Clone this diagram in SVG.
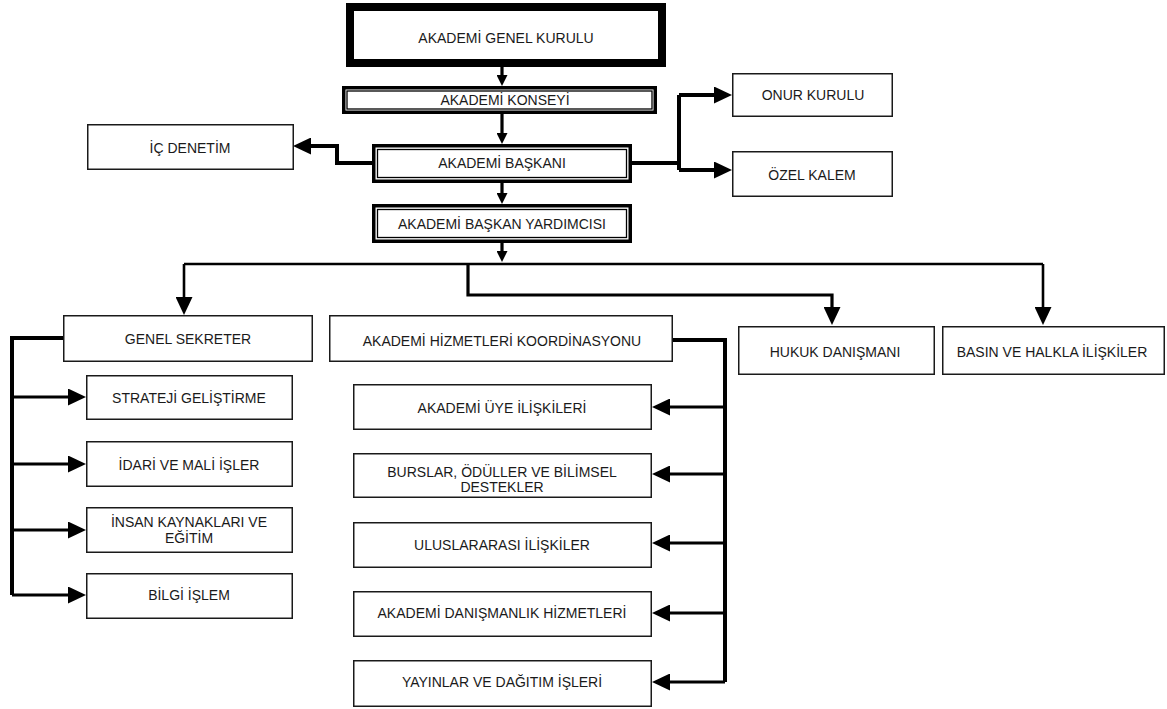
<svg xmlns="http://www.w3.org/2000/svg" width="1167" height="709" viewBox="0 0 1167 709">
<style>
.bx{fill:#fff;stroke:#1a1a1a;stroke-width:1.5}
.dbo{fill:#fff;stroke:#000;stroke-width:3.5}
.dbi{fill:none;stroke:#000;stroke-width:1.3}
.gk{fill:#fff;stroke:#000;stroke-width:8}
.t{font-family:"Liberation Sans",Arial,sans-serif;font-size:14px;fill:#1a1a1a;text-anchor:middle}
.c{fill:none;stroke:#000;stroke-linejoin:miter}
.w4{stroke-width:4}
.w3{stroke-width:3.2}
.w25{stroke-width:2.6}
</style>
<defs>
<marker id="big" markerUnits="userSpaceOnUse" markerWidth="18" markerHeight="17" refX="8" refY="8.5" orient="auto" viewBox="0 0 18 17">
<path d="M0,0 L18,8.5 L0,17 Z" fill="#000"/>
</marker>
<marker id="sm" markerUnits="userSpaceOnUse" markerWidth="11" markerHeight="11" refX="5" refY="5.5" orient="auto" viewBox="0 0 11 11">
<path d="M0,0 L11,5.5 L0,11 Z" fill="#000"/>
</marker>
</defs>

<g id="connectors">
<path class="c w3" d="M502,67 V80" marker-end="url(#sm)"/>
<path class="c w3" d="M502,114 V138" marker-end="url(#sm)"/>
<path class="c w3" d="M502,183 V198" marker-end="url(#sm)"/>
<path class="c w3" d="M502,243 V256" marker-end="url(#sm)"/>
<path class="c w4" d="M372,163 H337 V146 H303" marker-end="url(#big)"/>
<path class="c w4" d="M632,163 H679"/>
<path class="c w4" d="M679,95 V170"/>
<path class="c w4" d="M679,95 H722" marker-end="url(#big)"/>
<path class="c w4" d="M679,170 H722" marker-end="url(#big)"/>
<path class="c w25" d="M184,264 H1043"/>
<path class="c w25" d="M184,264 V305" marker-end="url(#big)"/>
<path class="c w25" d="M1043,264 V315" marker-end="url(#big)"/>
<path class="c w3" d="M468,264 V295 H832 V315" marker-end="url(#big)"/>
<path class="c w4" d="M63,338 H12 V595"/>
<path class="c w3" d="M12,397 H76" marker-end="url(#big)"/>
<path class="c w3" d="M12,464 H76" marker-end="url(#big)"/>
<path class="c w3" d="M12,530 H76" marker-end="url(#big)"/>
<path class="c w3" d="M12,595 H76" marker-end="url(#big)"/>
<path class="c w4" d="M673,340 H725 V682"/>
<path class="c w3" d="M725,407 H662" marker-end="url(#big)"/>
<path class="c w3" d="M725,474 H662" marker-end="url(#big)"/>
<path class="c w3" d="M725,543 H662" marker-end="url(#big)"/>
<path class="c w3" d="M725,613 H662" marker-end="url(#big)"/>
<path class="c w3" d="M725,682 H662" marker-end="url(#big)"/>
</g>

<g id="genel-kurulu">
<rect class="gk" x="350" y="7" width="312" height="56"/>
<text class="t" x="506" y="43">AKADEMİ GENEL KURULU</text>
</g>
<g id="konsey">
<rect class="dbo" x="343.75" y="87.75" width="311.5" height="24.5"/>
<rect class="dbi" x="347" y="91" width="305" height="18"/>
<text class="t" x="505" y="104.5">AKADEMİ KONSEYİ</text>
</g>
<g id="baskan">
<rect class="dbo" x="373.75" y="145.75" width="256.5" height="35.5"/>
<rect class="dbi" x="377.5" y="149.5" width="249" height="28"/>
<text class="t" x="502" y="168">AKADEMİ BAŞKANI</text>
</g>
<g id="baskan-yardimcisi">
<rect class="dbo" x="373.75" y="205.75" width="256.5" height="35.5"/>
<rect class="dbi" x="377.5" y="209.5" width="249" height="28"/>
<text class="t" x="502" y="229">AKADEMİ BAŞKAN YARDIMCISI</text>
</g>
<g id="ic-denetim">
<rect class="bx" x="87.75" y="124.75" width="205.5" height="44.5"/>
<text class="t" x="190" y="152.5">İÇ DENETİM</text>
</g>
<g id="onur-kurulu">
<rect class="bx" x="732.75" y="73.75" width="159.5" height="42.5"/>
<text class="t" x="813" y="100">ONUR KURULU</text>
</g>
<g id="ozel-kalem">
<rect class="bx" x="732.75" y="151.75" width="159.5" height="44.5"/>
<text class="t" x="812" y="180">ÖZEL KALEM</text>
</g>
<g id="genel-sekreter">
<rect class="bx" x="63.75" y="315.75" width="248.5" height="45.5"/>
<text class="t" x="188" y="344">GENEL SEKRETER</text>
</g>
<g id="koordinasyon">
<rect class="bx" x="329.75" y="315.75" width="342.5" height="45.5"/>
<text class="t" x="502" y="345.5">AKADEMİ HİZMETLERİ KOORDİNASYONU</text>
</g>
<g id="hukuk">
<rect class="bx" x="738.75" y="326.75" width="195.5" height="47.5"/>
<text class="t" x="835" y="357">HUKUK DANIŞMANI</text>
</g>
<g id="basin">
<rect class="bx" x="942.75" y="326.75" width="221.5" height="47.5"/>
<text class="t" x="1052" y="357">BASIN VE HALKLA İLİŞKİLER</text>
</g>
<g id="strateji">
<rect class="bx" x="86.75" y="375.75" width="205.5" height="43.5"/>
<text class="t" x="189" y="403">STRATEJİ GELİŞTİRME</text>
</g>
<g id="idari">
<rect class="bx" x="86.75" y="441.75" width="205.5" height="44.5"/>
<text class="t" x="189" y="469.5">İDARİ VE MALİ İŞLER</text>
</g>
<g id="insan">
<rect class="bx" x="86.75" y="507.75" width="205.5" height="44.5"/>
<text class="t" x="189" y="527">İNSAN KAYNAKLARI VE</text>
<text class="t" x="189" y="543">EĞİTİM</text>
</g>
<g id="bilgi">
<rect class="bx" x="86.75" y="573.75" width="205.5" height="44.5"/>
<text class="t" x="189" y="599.5">BİLGİ İŞLEM</text>
</g>
<g id="uye">
<rect class="bx" x="353.75" y="384.75" width="297.5" height="44.5"/>
<text class="t" x="502" y="413">AKADEMİ ÜYE İLİŞKİLERİ</text>
</g>
<g id="burslar">
<rect class="bx" x="353.75" y="453.75" width="297.5" height="43.5"/>
<text class="t" x="502" y="477">BURSLAR, ÖDÜLLER VE BİLİMSEL</text>
<text class="t" x="502" y="492">DESTEKLER</text>
</g>
<g id="uluslararasi">
<rect class="bx" x="353.75" y="522.75" width="297.5" height="44.5"/>
<text class="t" x="502" y="550">ULUSLARARASI İLİŞKİLER</text>
</g>
<g id="danismanlik">
<rect class="bx" x="353.75" y="591.75" width="297.5" height="44.5"/>
<text class="t" x="502" y="618">AKADEMİ DANIŞMANLIK HİZMETLERİ</text>
</g>
<g id="yayinlar">
<rect class="bx" x="353.75" y="660.75" width="297.5" height="45.5"/>
<text class="t" x="502" y="687">YAYINLAR VE DAĞITIM İŞLERİ</text>
</g>
</svg>
